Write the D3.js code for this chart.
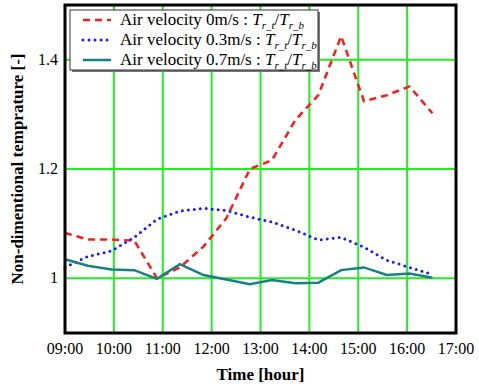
<!DOCTYPE html>
<html>
<head>
<meta charset="utf-8">
<style>
  body { margin: 0; background: #fff; }
  svg text { font-family: "Liberation Serif", "DejaVu Serif", serif; }
</style>
</head>
<body>
<svg width="479" height="386"></svg>
<script src="https://cdnjs.cloudflare.com/ajax/libs/d3/7.8.5/d3.min.js"></script>
<script>
  // measurement times
  const times = ["09:00", "09:28", "09:57", "10:25", "10:53", "11:21", "11:50", "12:18", "12:47",
                 "13:14", "13:43", "14:11", "14:39", "15:07", "15:35", "16:03", "16:31"];
  const v0 = [1.083, 1.071, 1.071, 1.069, 1.0, 1.02, 1.058, 1.11, 1.2, 1.216, 1.29, 1.335, 1.443,
              1.324, 1.335, 1.351, 1.302];
  const v03 = [1.02, 1.04, 1.05, 1.075, 1.108, 1.123, 1.128, 1.124, 1.112, 1.103, 1.088, 1.07, 1.075,
               1.057, 1.033, 1.02, 1.007];
  const v07 = [1.035, 1.023, 1.016, 1.015, 0.999, 1.026, 1.006, 0.998, 0.989, 0.997, 0.991, 0.992, 1.015,
               1.02, 1.006, 1.009, 1.001];
  const xTicks = ["09:00", "10:00", "11:00", "12:00", "13:00", "14:00", "15:00", "16:00", "17:00"];
  const yTicks = [1, 1.2, 1.4];
  const seriesNames = ["Air velocity 0m/s : ", "Air velocity 0.3m/s : ", "Air velocity 0.7m/s : "];

  const parse = d3.timeParse("%H:%M");
  const svg = d3.select("svg");
  const margin = {left: 65, right: 23, top: 5, bottom: 53};
  const W = 479, H = 386;

  const x = d3.scaleTime()
    .domain([parse("09:00"), parse("17:00")])
    .range([margin.left, W - margin.right]);
  const y = d3.scaleLinear()
    .domain([0.9, 1.5])
    .range([H - margin.bottom, margin.top]);

  // grid
  svg.append("g").selectAll("line")
    .data(xTicks.slice(1, -1))
    .enter().append("line")
    .attr("x1", d => x(parse(d))).attr("x2", d => x(parse(d)))
    .attr("y1", y(0.9)).attr("y2", y(1.5))
    .attr("stroke", "#22ee22").attr("stroke-width", 2);
  svg.append("g").selectAll("line")
    .data(yTicks)
    .enter().append("line")
    .attr("x1", x(parse("09:00"))).attr("x2", x(parse("17:00")))
    .attr("y1", d => y(d)).attr("y2", d => y(d))
    .attr("stroke", "#22ee22").attr("stroke-width", 2);

  // tick labels
  svg.append("g").selectAll("text")
    .data(xTicks)
    .enter().append("text")
    .attr("x", d => x(parse(d)))
    .attr("y", y(0.9) + 21)
    .attr("text-anchor", "middle")
    .attr("font-size", 16)
    .text(d => d);
  svg.append("g").selectAll("text")
    .data(yTicks)
    .enter().append("text")
    .attr("x", margin.left - 7)
    .attr("y", d => y(d) + 5)
    .attr("text-anchor", "end")
    .attr("font-size", 16)
    .text(d => d3.format("")(d));

  // series
  const pts = vals => vals.map((v, i) => [parse(times[i]), v]);
  const line = d3.line().x(d => x(d[0])).y(d => y(d[1]));
  const styles = [
    {vals: v0, color: "#ff1a1a", width: 2.5, dash: "7,5", cap: "butt"},
    {vals: v03, color: "#1a1aff", width: 3, dash: "0,6", cap: "round"},
    {vals: v07, color: "#178080", width: 2.5, dash: null, cap: "butt"}
  ];
  styles.forEach(s => {
    svg.append("path")
      .datum(pts(s.vals))
      .attr("d", line)
      .attr("fill", "none")
      .attr("stroke", s.color)
      .attr("stroke-width", s.width)
      .attr("stroke-linecap", s.cap)
      .attr("stroke-dasharray", s.dash);
  });

  // frame
  svg.append("rect")
    .attr("x", x(parse("09:00"))).attr("y", y(1.5))
    .attr("width", x(parse("17:00")) - x(parse("09:00")))
    .attr("height", y(0.9) - y(1.5))
    .attr("fill", "none").attr("stroke", "#000").attr("stroke-width", 3);

  // legend
  const lg = svg.append("g").attr("transform", "translate(70,10)");
  lg.append("rect").attr("x", 2).attr("y", 2).attr("width", 248).attr("height", 60).attr("fill", "#777");
  lg.append("rect").attr("width", 248).attr("height", 60).attr("fill", "#fff")
    .attr("stroke", "#333").attr("stroke-width", 1);
  styles.forEach((s, i) => {
    const yy = 10 + i * 20;
    lg.append("line")
      .attr("x1", 13).attr("x2", 41).attr("y1", yy).attr("y2", yy)
      .attr("stroke", s.color).attr("stroke-width", s.width)
      .attr("stroke-linecap", s.cap).attr("stroke-dasharray", s.dash);
    const t = lg.append("text").attr("x", 50).attr("y", yy + 5).attr("font-size", 17);
    t.append("tspan").text(seriesNames[i]);
    t.append("tspan").attr("font-style", "italic").text("T");
    t.append("tspan").attr("font-style", "italic").attr("font-size", 11).attr("dy", 4).text("r_t");
    t.append("tspan").attr("dy", -4).text("/");
    t.append("tspan").attr("font-style", "italic").text("T");
    t.append("tspan").attr("font-style", "italic").attr("font-size", 11).attr("dy", 4).text("r_b");
  });

  // axis titles
  svg.append("text")
    .attr("x", (x(parse("09:00")) + x(parse("17:00"))) / 2)
    .attr("y", 380)
    .attr("text-anchor", "middle")
    .attr("font-size", 17).attr("font-weight", "bold")
    .text("Time [hour]");
  svg.append("text")
    .attr("transform", "translate(23," + ((y(0.9) + y(1.5)) / 2) + ") rotate(-90)")
    .attr("text-anchor", "middle")
    .attr("font-size", 17).attr("font-weight", "bold")
    .text("Non-dimentional temprature [-]");
</script>
</body>
</html>
